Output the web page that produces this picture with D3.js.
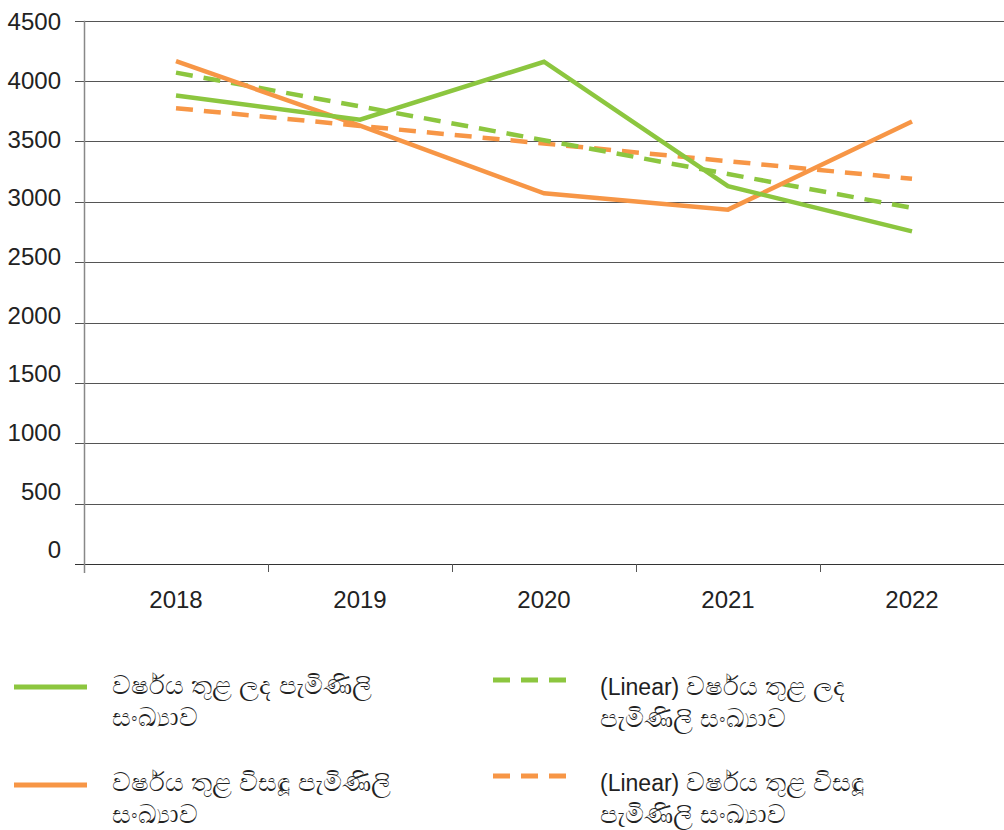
<!DOCTYPE html>
<html>
<head>
<meta charset="utf-8">
<script src="https://cdn.jsdelivr.net/npm/d3@7"></script>
<style>
  body { margin: 0; background: #fff; }
  svg { font-family: "Liberation Sans", Arial, sans-serif; }
</style>
</head>
<body>
<svg id="canvas" width="1004" height="830"></svg>
<script>
// chart data
var years = ['2018', '2019', '2020', '2021', '2022'];
var received = [3880, 3680, 4160, 3130, 2755];
var solved = [4165, 3630, 3070, 2935, 3665];
// trend lines read at the first and last year
var receivedTrend = [4070, 2950];
var solvedTrend = [3775, 3190];
var yTicks = [0, 500, 1000, 1500, 2000, 2500, 3000, 3500, 4000, 4500];
var legendNames = [
    'වර්ෂය තුළ ලද පැමිණිලි සංඛ්‍යාව',
    'වර්ෂය තුළ විසඳූ පැමිණිලි සංඛ්‍යාව',
    '(Linear) වර්ෂය තුළ ලද පැමිණිලි සංඛ්‍යාව',
    '(Linear) වර්ෂය තුළ විසඳූ පැමිණිලි සංඛ්‍යාව'
];
// each legend label split in lines, the latin prefix kept apart
var legendLines = [
    [['', 'වර්ෂය තුළ ලද පැමිණිලි'], ['', 'සංඛ්‍යාව']],
    [['', 'වර්ෂය තුළ විසඳූ පැමිණිලි'], ['', 'සංඛ්‍යාව']],
    [['(Linear) ', 'වර්ෂය තුළ ලද'], ['', 'පැමිණිලි සංඛ්‍යාව']],
    [['(Linear) ', 'වර්ෂය තුළ විසඳූ'], ['', 'පැමිණිලි සංඛ්‍යාව']]
];

var green = '#8cc63f';
var orange = '#f79646';

var svg = d3.select('#canvas');

var x = d3.scaleBand().domain(years).range([84, 1004]);
var y = d3.scaleLinear().domain([0, 4500]).range([564, 20.7]);
// labels sit on a slightly tighter spacing than the grid
var yLab = d3.scaleLinear().domain([0, 4500]).range([550, 22]);
var cx = d => x(d) + x.bandwidth() / 2;

// gridlines
svg.append('g')
    .selectAll('line')
    .data(yTicks)
    .join('line')
    .attr('x1', 75)
    .attr('x2', 1004)
    .attr('y1', d => Math.round(y(d)) + 0.5)
    .attr('y2', d => Math.round(y(d)) + 0.5)
    .style('stroke', d => d == 0 ? '#333' : '#555')
    .style('stroke-width', 1);

// y axis line
svg.append('line')
    .attr('x1', 84.5).attr('x2', 84.5)
    .attr('y1', y(4500)).attr('y2', y(0) + 9)
    .style('stroke', '#888')
    .style('stroke-width', 1.5);

// x ticks
svg.append('g')
    .selectAll('line')
    .data(years.slice(1))
    .join('line')
    .attr('x1', d => Math.round(x(d)) + 0.5)
    .attr('x2', d => Math.round(x(d)) + 0.5)
    .attr('y1', y(0))
    .attr('y2', y(0) + 8)
    .style('stroke', '#555');

// y labels
svg.append('g')
    .selectAll('text')
    .data(yTicks)
    .join('text')
    .attr('x', 61)
    .attr('y', d => yLab(d))
    .attr('dy', '0.35em')
    .attr('text-anchor', 'end')
    .style('font-size', '24px')
    .style('fill', '#222')
    .text(d => d);

// x labels
svg.append('g')
    .selectAll('text')
    .data(years)
    .join('text')
    .attr('x', d => cx(d))
    .attr('y', 600)
    .attr('dy', '0.35em')
    .attr('text-anchor', 'middle')
    .style('font-size', '24px')
    .style('fill', '#222')
    .text(d => d);

var line = d3.line().x(d => cx(d[0])).y(d => y(d[1]));

function drawSeries(vals, color){
    svg.append('path')
        .datum(years.map((yr, i) => [yr, vals[i]]))
        .attr('d', line)
        .style('fill', 'none')
        .style('stroke', color)
        .style('stroke-width', 4.5)
        .style('stroke-linejoin', 'miter');
}

function drawTrend(vals, color){
    var ends = [[years[0], vals[0]], [years[years.length - 1], vals[1]]];
    svg.append('path')
        .datum(ends)
        .attr('d', line)
        .style('fill', 'none')
        .style('stroke', color)
        .style('stroke-width', 4.5)
        .style('stroke-dasharray', '17,11');
}

drawTrend(solvedTrend, orange);
drawTrend(receivedTrend, green);
drawSeries(solved, orange);
drawSeries(received, green);

// legend
var legendItems = [
    { color: green, dash: null, lx: 14, ly: 687, tx: 112, ty: 688 },
    { color: orange, dash: null, lx: 14, ly: 785, tx: 112, ty: 785 },
    { color: green, dash: '17,11', lx: 493, ly: 680, tx: 600, ty: 689 },
    { color: orange, dash: '17,11', lx: 493, ly: 776, tx: 600, ty: 785 }
];

var lg = svg.append('g');
legendItems.forEach(function(item, i){
    lg.append('line')
        .attr('x1', item.lx).attr('x2', item.lx + 73)
        .attr('y1', item.ly).attr('y2', item.ly)
        .style('stroke', item.color)
        .style('stroke-width', 5)
        .style('stroke-dasharray', item.dash);
    var g = lg.append('g').attr('aria-label', legendNames[i]);
    legendLines[i].forEach(function(parts, k){
        var t = g.append('text')
            .attr('x', item.tx)
            .attr('y', item.ty + k * 32)
            .attr('dy', '0.35em')
            .style('fill', '#222');
        if (parts[0])
            t.append('tspan').style('font-size', '23px').text(parts[0]);
        t.append('tspan').style('font-size', '26px').text(parts[1]);
    });
});
</script>
</body>
</html>
